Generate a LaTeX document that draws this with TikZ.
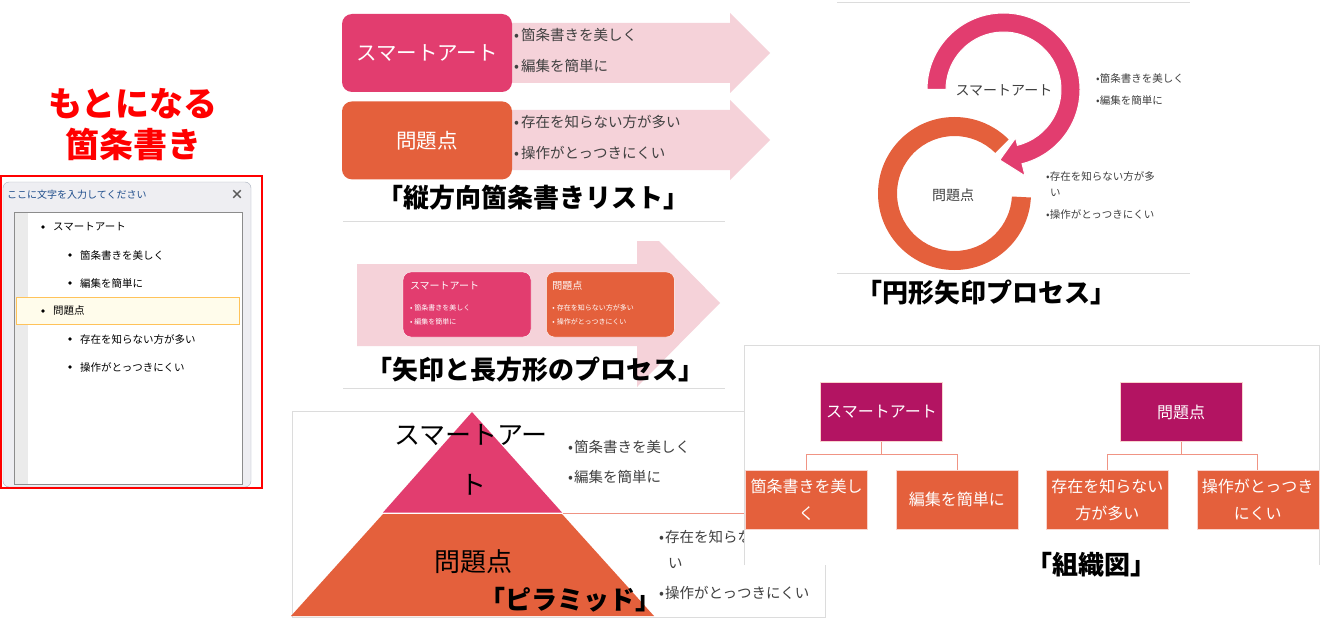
\documentclass[tikz,border=0pt]{standalone}
\usepackage{fontspec}
\newfontfamily\jp{Noto Sans CJK JP}
\usetikzlibrary{positioning,calc}

\definecolor{smpink}{HTML}{E23D6F}
\definecolor{smorange}{HTML}{E4603C}
\definecolor{paleflow}{HTML}{F5D2D9}
\definecolor{orgmag}{HTML}{B31462}
\definecolor{orgline}{HTML}{F09484}
\definecolor{frame}{HTML}{DCDCDC}
\definecolor{bodytext}{HTML}{404040}
\definecolor{panebg}{HTML}{EEEEF2}
\definecolor{paneedge}{HTML}{A9B1BE}
\definecolor{panetitle}{HTML}{1F4E8C}
\definecolor{hledge}{HTML}{FFC35A}
\definecolor{hlfill}{HTML}{FFFCEB}

\newcommand\fsz[1]{\fontsize{#1}{#1}\selectfont}

\tikzset{
  lbl/.style={inner sep=0pt, font=\jp},
  item/.style={inner sep=0pt, anchor=west},
  dotmark/.style={circle, fill=black, inner sep=0pt, minimum size=3.6pt},
  caption/.style={inner sep=0pt, font=\jp\bfseries\fsz{26}},
  flowbox/.style={inner sep=0pt, rounded corners=10pt, minimum width=170pt,
    minimum height=78pt, text=white, font=\jp\fsz{20.5}},
  procbox/.style={draw=white, inner sep=0pt, rounded corners=8pt,
    minimum width=128pt, minimum height=65pt},
  orgbox/.style={draw=white!60!orgline, inner sep=0pt, minimum width=122pt,
    minimum height=59pt, text=white, align=center, font=\jp\fontsize{16}{27}\selectfont},
  orglink/.style={orgline, line width=0.8pt}
}

\begin{document}
\begin{tikzpicture}[x=1pt, y=-1pt, >=latex]
\useasboundingbox[fill=white] (0,0) rectangle (1325,623);

% source list
\node[lbl, text=red, font=\jp\bfseries\fsz{34}] (srctitle) at (133,104) {もとになる};
\node[lbl, text=red, font=\jp\bfseries\fsz{34}, below=8pt of srctitle] (srctitle2) {箇条書き};
\draw[paneedge, fill=panebg, rounded corners=6pt] (3,487) -- (3,182) -- (251,182) -- (251,487) -- cycle;
\node[item, text=panetitle, font=\jp\fsz{10}] (panehead) at (7,195) {ここに文字を入力してください};
\node[lbl, text=black!65, font=\jp\bfseries\fsz{13}] (paneclose) at (237,195) {×};
\draw[black!45, fill=white] (14,212) rectangle (242,484);
\fill[black!8] (14.5,212.5) rectangle (28,483.5);
\draw[hledge, fill=hlfill] (16,297) rectangle (239,324);
\foreach \y/\lv/\t [count=\i] in {227/0/スマートアート, 255/1/箇条書きを美しく,
    283/1/編集を簡単に, 311/0/問題点, 339/1/存在を知らない方が多い, 367/1/操作がとっつきにくい} {
  \node[dotmark] (dot\i) at ({43+27*\lv},\y) {};
  \node[item, font=\jp\fsz{10.5}] (entry\i) at ({53+27*\lv},\y) {\t};
}
\draw[red, line width=2pt] (1,176) rectangle (262,488);

% vertical bullet list
\fill[paleflow] (505,23) -- (730,23) -- (730,13) -- (770,53) -- (730,93) -- (730,83) -- (505,83) -- cycle;
\fill[paleflow] (505,110) -- (730,110) -- (730,100) -- (770,140) -- (730,180) -- (730,170) -- (505,170) -- cycle;
\node[flowbox, fill=smpink] (vsmart) at (427,53) {スマートアート};
\node[flowbox, fill=smorange, below=9pt of vsmart] (vissue) {問題点};
\node[item, text=bodytext, font=\jp\fsz{14.5}] (vb1) at (514,35) {•\hspace{2pt}箇条書きを美しく};
\node[item, text=bodytext, font=\jp\fsz{14.5}] (vb2) at (514,66) {•\hspace{2pt}編集を簡単に};
\node[item, text=bodytext, font=\jp\fsz{14.5}] (vb3) at (514,122) {•\hspace{2pt}存在を知らない方が多い};
\node[item, text=bodytext, font=\jp\fsz{14.5}] (vb4) at (514,153) {•\hspace{2pt}操作がとっつきにくい};
\draw[frame] (343,221) -- (725,221);
\node[caption] (capv) at (533,198) {「縦方向箇条書きリスト」};

% arrow and rectangles
\fill[paleflow] (357,264) -- (637,264) -- (637,241) -- (659,241) -- (720,303) -- (637,387)
  -- (637,346) -- (357,346) -- cycle;
\node[procbox, fill=smpink] (psmart) at (467,304.5) {};
\node[procbox, fill=smorange, right=15pt of psmart] (pissue) {};
\node[item, text=white, font=\jp\fsz{10}] (pst) at ($(psmart.north west)+(7,14)$) {スマートアート};
\node[item, text=white, font=\jp\fsz{7}] (psb1) at ($(psmart.north west)+(7,36)$) {•\hspace{2pt}箇条書きを美しく};
\node[item, text=white, font=\jp\fsz{7}] (psb2) at ($(psmart.north west)+(7,50)$) {•\hspace{2pt}編集を簡単に};
\node[item, text=white, font=\jp\fsz{10}] (pit) at ($(pissue.north west)+(6,14)$) {問題点};
\node[item, text=white, font=\jp\fsz{7}] (pib1) at ($(pissue.north west)+(6,36)$) {•\hspace{2pt}存在を知らない方が多い};
\node[item, text=white, font=\jp\fsz{7}] (pib2) at ($(pissue.north west)+(6,50)$) {•\hspace{2pt}操作がとっつきにくい};
\draw[frame] (343,388) -- (725,388);
\node[caption] (capp) at (535,370) {「矢印と長方形のプロセス」};

% circular arrows
\draw[frame] (837,2) -- (1190,2);
\draw[frame] (837,273) -- (1190,273);
\coordinate (ringc) at (954.5,193.5);
\coordinate (arcc) at (1003.5,89.5);
\fill[smorange] ($(ringc)+(3:76.5)$) arc[start angle=3, end angle=315, radius=76.5]
  -- ($(ringc)+(315:57.5)$) arc[start angle=315, end angle=3, radius=57.5] -- cycle;
\path[fill=smpink, draw=white, line width=1pt] ($(arcc)+(180:76.5)$)
  arc[start angle=180, end angle=436, radius=76.5] -- ($(arcc)+(76:89)$)
  -- ($(arcc)+(93:70.6)$) -- ($(arcc)+(76:50)$) -- ($(arcc)+(76:57.5)$)
  arc[start angle=436, end angle=180, radius=57.5] -- cycle;
\node[lbl, text=bodytext, font=\jp\fsz{14}] (cst) at (1004,90) {スマートアート};
\node[lbl, text=bodytext, font=\jp\fsz{14}] (cit) at (953,195) {問題点};
\node[item, text=bodytext, font=\jp\fsz{10.5}] (cb1) at (1096,79) {•箇条書きを美しく};
\node[item, text=bodytext, font=\jp\fsz{10.5}] (cb2) at (1096,100) {•編集を簡単に};
\node[item, text=bodytext, font=\jp\fsz{10.5}] (cb3) at (1046,176) {•存在を知らない方が多};
\node[item, text=bodytext, font=\jp\fsz{10.5}] (cb3b) at (1050,193) {い};
\node[item, text=bodytext, font=\jp\fsz{10.5}] (cb4) at (1046,214) {•操作がとっつきにくい};
\node[caption] (capc) at (986.5,293) {「円形矢印プロセス」};

% pyramid
\draw[frame] (292,411) rectangle (825,617);
\fill[smorange] (383,514) -- (562,514) -- (654,616) -- (291,616) -- cycle;
\fill[smpink] (472,412) -- (562,512.5) -- (383,512.5) -- cycle;
\draw[orgline] (563,513) -- (745,513);
\node[lbl, font=\jp\fsz{26}] (pyst) at (471,435) {スマートアー};
\node[lbl, font=\jp\fsz{26}] (pyst2) at (473,485) {ト};
\node[lbl, font=\jp\fsz{26}] (pyit) at (473,562) {問題点};
\node[item, text=bodytext, font=\jp\fsz{14.5}] (pyb1) at (568,447) {•\hspace{1pt}箇条書きを美しく};
\node[item, text=bodytext, font=\jp\fsz{14.5}] (pyb2) at (568,477) {•\hspace{1pt}編集を簡単に};
\node[item, text=bodytext, font=\jp\fsz{14.5}] (pyb3) at (659,537) {•\hspace{1pt}存在を知らない方が多};
\node[item, text=bodytext, font=\jp\fsz{14.5}] (pyb3b) at (668,563) {い};
\node[item, text=bodytext, font=\jp\fsz{14.5}] (pyb4) at (659,593) {•\hspace{1pt}操作がとっつきにくい};
\node[caption] (capy) at (570,600) {「ピラミッド」};

% org chart
\fill[white] (744,345) rectangle (1319,565);
\draw[frame] (744,565) -- (744,345) -- (1319,345) -- (1319,565);
\node[orgbox, fill=orgmag] (op1) at (881.5,412) {スマートアート};
\node[orgbox, fill=orgmag] (op2) at (1181,412) {問題点};
\node[orgbox, fill=smorange] (oc1) at (806.5,499.5) {箇条書きを美し\\く};
\node[orgbox, fill=smorange, right=28pt of oc1] (oc2) {編集を簡単に};
\node[orgbox, fill=smorange, right=28pt of oc2] (oc3) {存在を知らない\\方が多い};
\node[orgbox, fill=smorange, right=28pt of oc3] (oc4) {操作がとっつき\\にくい};
\draw[orglink] (op1.south) -- ++(0,13) -| (oc1.north);
\draw[orglink] (op1.south) -- ++(0,13) -| (oc2.north);
\draw[orglink] (op2.south) -- ++(0,13) -| (oc3.north);
\draw[orglink] (op2.south) -- ++(0,13) -| (oc4.north);
\node[caption] (capo) at (1091.5,565) {「組織図」};
\end{tikzpicture}
\end{document}
